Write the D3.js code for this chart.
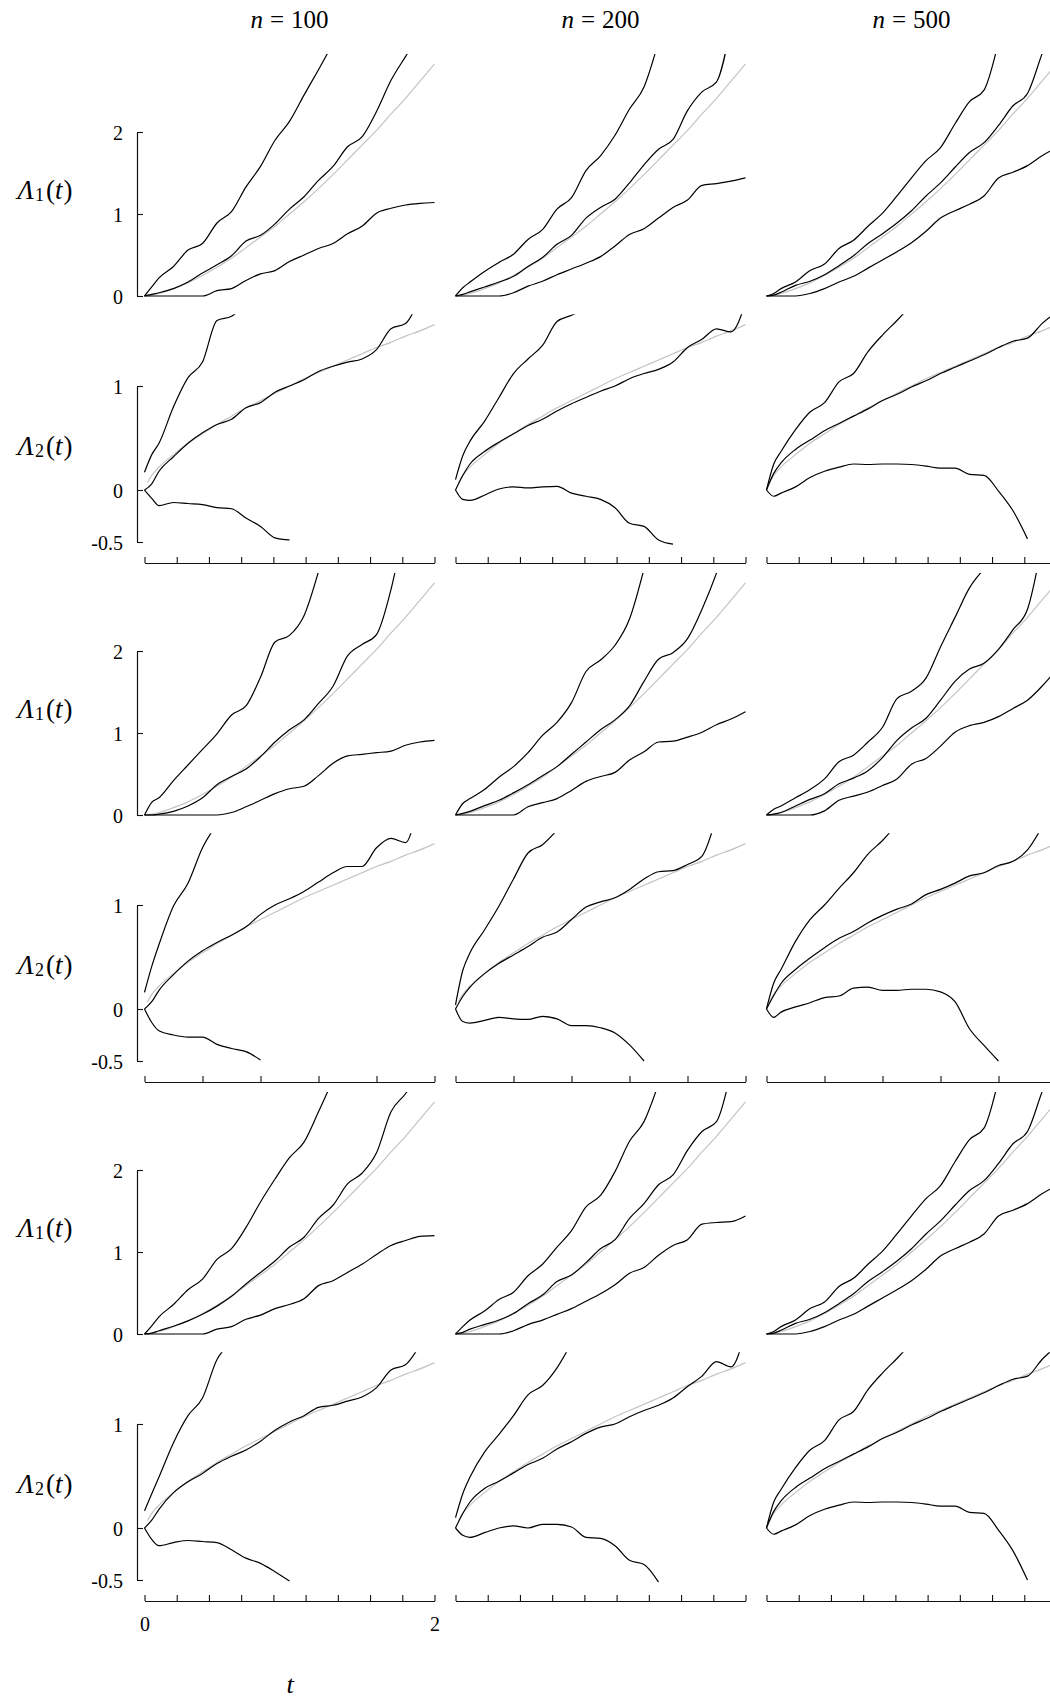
<!DOCTYPE html>
<html>
<head>
<meta charset="utf-8">
<script src="https://cdn.jsdelivr.net/npm/d3@7"></script>
<style>
  body { margin: 0; background: #fff; }
  svg { display: block; }
  text { font-family: "Liberation Serif", "Times New Roman", Times, serif; fill: #000; }
</style>
</head>
<body>
<script>
// time grid shared by all estimated curves
var T = [0, 0.05, 0.1, 0.2, 0.3, 0.4, 0.5, 0.6, 0.7, 0.8, 0.9, 1.0, 1.1, 1.2, 1.3, 1.4, 1.5, 1.6, 1.7, 1.8, 1.9, 2.0];

// true curves (grey)
var trueT1 = T;
var true1 = [0, 0.01, 0.03, 0.09, 0.16, 0.25, 0.35, 0.46, 0.59, 0.72, 0.85, 1.0, 1.15, 1.31, 1.48, 1.66, 1.84, 2.02, 2.22, 2.41, 2.62, 2.83];
var trueT2 = [0.02, 0.05, 0.1, 0.2, 0.3, 0.4, 0.5, 0.6, 0.7, 0.8, 0.9, 1.0, 1.1, 1.2, 1.3, 1.4, 1.5, 1.6, 1.7, 1.8, 1.9, 2.0];
var true2 = [0.07, 0.14, 0.22, 0.34, 0.45, 0.54, 0.63, 0.71, 0.79, 0.86, 0.93, 1.0, 1.07, 1.13, 1.19, 1.25, 1.31, 1.37, 1.42, 1.48, 1.53, 1.59];

var sampleSizes = ["100", "200", "500"];
var yTicks1 = [0, 1, 2];
var yTicks2 = [-0.5, 0, 1];
var yTickLabels2 = ["-0.5", "0", "1"];
var xTickCount = [10, 6, 10];

// estimates: [upper band, estimate, lower band], values on T
var lam1_r1_n100 = [
  [0, 0.11, 0.22, 0.36, 0.56, 0.64, 0.89, 1.03, 1.33, 1.58, 1.90, 2.13, 2.45, 2.76, 3.08],
  [0, 0.02, 0.04, 0.09, 0.17, 0.28, 0.38, 0.49, 0.67, 0.74, 0.88, 1.06, 1.21, 1.41, 1.58, 1.82, 1.94, 2.25, 2.63, 2.92, 3.2],
  [0, 0, 0, 0, 0, 0, 0.065, 0.09, 0.19, 0.27, 0.31, 0.42, 0.50, 0.58, 0.64, 0.76, 0.85, 1.01, 1.07, 1.11, 1.13, 1.14]
];
var lam2_r1_n100 = [
  [0.17, 0.34, 0.45, 0.80, 1.08, 1.23, 1.63, 1.67, 1.80],
  [0, 0.06, 0.18, 0.32, 0.45, 0.55, 0.63, 0.68, 0.79, 0.84, 0.94, 1.00, 1.06, 1.14, 1.19, 1.23, 1.26, 1.35, 1.55, 1.60, 1.85],
  [0, -0.08, -0.15, -0.12, -0.13, -0.14, -0.17, -0.18, -0.27, -0.35, -0.46, -0.48]
];
var lam1_r1_n200 = [
  [0, 0.10, 0.17, 0.30, 0.41, 0.51, 0.69, 0.81, 1.06, 1.20, 1.53, 1.71, 1.96, 2.28, 2.55, 3.10],
  [0, 0.02, 0.05, 0.11, 0.17, 0.24, 0.36, 0.47, 0.63, 0.74, 0.95, 1.08, 1.18, 1.38, 1.60, 1.79, 1.91, 2.26, 2.49, 2.61, 3.3],
  [0, 0, 0, 0, 0, 0.04, 0.12, 0.18, 0.26, 0.33, 0.40, 0.48, 0.61, 0.75, 0.82, 0.95, 1.08, 1.17, 1.35, 1.37, 1.40, 1.44]
];
var lam2_r1_n200 = [
  [0.10, 0.33, 0.47, 0.66, 0.89, 1.12, 1.26, 1.39, 1.62, 1.68, 1.75],
  [0, 0.14, 0.25, 0.37, 0.46, 0.54, 0.62, 0.68, 0.76, 0.83, 0.89, 0.95, 1.00, 1.07, 1.12, 1.16, 1.23, 1.37, 1.45, 1.55, 1.52, 1.80],
  [0, -0.09, -0.10, -0.05, 0.01, 0.03, 0.02, 0.03, 0.035, -0.03, -0.06, -0.09, -0.17, -0.32, -0.35, -0.48, -0.52]
];
var lam1_r1_n500 = [
  [0, 0.03, 0.09, 0.17, 0.31, 0.39, 0.58, 0.68, 0.85, 1.01, 1.22, 1.44, 1.65, 1.81, 2.10, 2.37, 2.51, 3.1],
  [0, 0.01, 0.045, 0.13, 0.18, 0.26, 0.37, 0.49, 0.64, 0.76, 0.89, 1.04, 1.22, 1.38, 1.57, 1.75, 1.87, 2.08, 2.32, 2.47, 2.95, 3.4],
  [0, 0, 0, 0, 0.03, 0.09, 0.17, 0.24, 0.34, 0.44, 0.54, 0.65, 0.79, 0.95, 1.04, 1.12, 1.22, 1.44, 1.51, 1.59, 1.71, 1.81]
];
var lam2_r1_n500 = [
  [0, 0.25, 0.37, 0.58, 0.75, 0.84, 1.04, 1.12, 1.33, 1.49, 1.63, 1.78],
  [0, 0.16, 0.26, 0.39, 0.48, 0.57, 0.64, 0.71, 0.78, 0.86, 0.92, 0.99, 1.05, 1.12, 1.18, 1.24, 1.30, 1.37, 1.43, 1.46, 1.60, 1.71],
  [0, -0.06, -0.03, 0.03, 0.12, 0.18, 0.22, 0.25, 0.245, 0.25, 0.25, 0.245, 0.23, 0.21, 0.21, 0.15, 0.14, -0.01, -0.20, -0.47]
];

var lam1_r2_n100 = [
  [0, 0.155, 0.21, 0.42, 0.61, 0.80, 0.99, 1.22, 1.33, 1.68, 2.11, 2.19, 2.43, 2.97],
  [0, 0.0, 0.01, 0.045, 0.11, 0.21, 0.37, 0.47, 0.56, 0.71, 0.89, 1.04, 1.16, 1.36, 1.57, 1.94, 2.08, 2.20, 2.75, 3.6],
  [0, 0, 0, 0, 0, 0, 0, 0.03, 0.10, 0.18, 0.26, 0.32, 0.35, 0.48, 0.63, 0.72, 0.74, 0.76, 0.78, 0.85, 0.89, 0.91]
];
var lam2_r2_n100 = [
  [0.16, 0.41, 0.62, 0.99, 1.21, 1.55, 1.78],
  [0, 0.07, 0.18, 0.33, 0.46, 0.56, 0.64, 0.71, 0.79, 0.91, 1.00, 1.06, 1.13, 1.22, 1.31, 1.37, 1.37, 1.55, 1.64, 1.60, 2.1],
  [0, -0.13, -0.21, -0.25, -0.27, -0.27, -0.34, -0.38, -0.41, -0.49]
];
var lam1_r2_n200 = [
  [0, 0.14, 0.20, 0.31, 0.46, 0.59, 0.76, 0.97, 1.13, 1.37, 1.75, 1.89, 2.07, 2.39, 3.0],
  [0, 0.02, 0.045, 0.115, 0.18, 0.27, 0.37, 0.48, 0.59, 0.74, 0.89, 1.04, 1.16, 1.33, 1.63, 1.90, 1.98, 2.15, 2.51, 2.95, 3.5],
  [0, 0, 0, 0, 0, 0, 0.10, 0.15, 0.20, 0.30, 0.41, 0.47, 0.52, 0.67, 0.77, 0.89, 0.90, 0.95, 1.01, 1.10, 1.17, 1.26]
];
var lam2_r2_n200 = [
  [0.04, 0.37, 0.54, 0.76, 0.99, 1.25, 1.50, 1.58, 1.72],
  [0, 0.12, 0.21, 0.34, 0.44, 0.52, 0.60, 0.69, 0.74, 0.86, 0.98, 1.03, 1.07, 1.15, 1.25, 1.32, 1.33, 1.39, 1.47, 1.85],
  [0, -0.12, -0.135, -0.11, -0.08, -0.095, -0.10, -0.07, -0.095, -0.16, -0.16, -0.18, -0.23, -0.345, -0.50]
];
var lam1_r2_n500 = [
  [0, 0.07, 0.11, 0.21, 0.31, 0.44, 0.65, 0.73, 0.89, 1.07, 1.42, 1.51, 1.67, 2.05, 2.41, 2.77, 3.0],
  [0, 0.01, 0.03, 0.11, 0.19, 0.26, 0.38, 0.45, 0.54, 0.70, 0.91, 1.06, 1.18, 1.40, 1.63, 1.78, 1.85, 2.02, 2.26, 2.51, 3.3],
  [0, 0, 0, 0, 0, 0.05, 0.18, 0.23, 0.28, 0.36, 0.44, 0.62, 0.69, 0.84, 1.01, 1.09, 1.13, 1.20, 1.30, 1.40, 1.57, 1.77]
];
var lam2_r2_n500 = [
  [0, 0.25, 0.38, 0.65, 0.86, 1.00, 1.16, 1.31, 1.49, 1.62, 1.78],
  [0, 0.13, 0.245, 0.38, 0.49, 0.59, 0.68, 0.745, 0.83, 0.90, 0.96, 1.01, 1.10, 1.15, 1.21, 1.28, 1.31, 1.38, 1.42, 1.53, 1.75],
  [0, -0.08, -0.03, 0.02, 0.06, 0.11, 0.125, 0.20, 0.21, 0.18, 0.18, 0.19, 0.19, 0.165, 0.07, -0.19, -0.35, -0.50]
];

var lam1_r3_n100 = [
  [0, 0.10, 0.21, 0.36, 0.54, 0.67, 0.91, 1.04, 1.30, 1.61, 1.89, 2.15, 2.34, 2.71, 3.1],
  [0, 0.01, 0.04, 0.095, 0.16, 0.24, 0.34, 0.46, 0.61, 0.75, 0.89, 1.06, 1.18, 1.41, 1.57, 1.83, 1.96, 2.21, 2.71, 2.93, 3.2],
  [0, 0, 0, 0, 0, 0, 0.06, 0.09, 0.18, 0.23, 0.31, 0.36, 0.43, 0.59, 0.65, 0.75, 0.85, 0.97, 1.08, 1.14, 1.19, 1.20]
];
var lam2_r3_n100 = [
  [0.165, 0.33, 0.49, 0.82, 1.08, 1.25, 1.62, 1.78],
  [0, 0.075, 0.18, 0.34, 0.445, 0.525, 0.62, 0.69, 0.75, 0.835, 0.94, 1.02, 1.08, 1.16, 1.18, 1.22, 1.26, 1.35, 1.52, 1.57, 1.76],
  [0, -0.11, -0.17, -0.14, -0.12, -0.13, -0.14, -0.21, -0.29, -0.34, -0.42, -0.51]
];
var lam1_r3_n200 = [
  [0, 0.09, 0.17, 0.28, 0.42, 0.51, 0.71, 0.85, 1.06, 1.26, 1.55, 1.69, 1.98, 2.35, 2.59, 3.05],
  [0, 0.02, 0.06, 0.115, 0.17, 0.25, 0.37, 0.475, 0.64, 0.72, 0.87, 1.04, 1.15, 1.41, 1.59, 1.82, 1.94, 2.24, 2.47, 2.59, 3.2],
  [0, 0, 0, 0, 0, 0.04, 0.115, 0.17, 0.24, 0.31, 0.40, 0.49, 0.60, 0.74, 0.81, 0.96, 1.08, 1.15, 1.34, 1.36, 1.37, 1.44]
];
var lam2_r3_n200 = [
  [0.10, 0.33, 0.49, 0.73, 0.90, 1.08, 1.28, 1.37, 1.54, 1.78],
  [0, 0.14, 0.25, 0.38, 0.45, 0.53, 0.61, 0.67, 0.76, 0.83, 0.91, 0.97, 1.00, 1.07, 1.13, 1.18, 1.25, 1.36, 1.46, 1.60, 1.55, 1.90],
  [0, -0.07, -0.09, -0.045, 0.00, 0.02, 0.00, 0.035, 0.035, 0.01, -0.09, -0.10, -0.17, -0.31, -0.35, -0.52]
];
var lam1_r3_n500 = [
  [0, 0.03, 0.09, 0.17, 0.31, 0.39, 0.58, 0.68, 0.85, 1.01, 1.22, 1.44, 1.65, 1.81, 2.10, 2.37, 2.51, 3.1],
  [0, 0.01, 0.045, 0.13, 0.18, 0.26, 0.37, 0.49, 0.64, 0.76, 0.89, 1.04, 1.22, 1.38, 1.57, 1.75, 1.87, 2.08, 2.32, 2.47, 2.95, 3.4],
  [0, 0, 0, 0, 0.03, 0.09, 0.17, 0.24, 0.34, 0.44, 0.54, 0.65, 0.79, 0.95, 1.04, 1.12, 1.22, 1.44, 1.51, 1.59, 1.71, 1.81]
];
var lam2_r3_n500 = [
  [0, 0.25, 0.37, 0.58, 0.75, 0.84, 1.04, 1.12, 1.33, 1.49, 1.63, 1.78],
  [0, 0.16, 0.26, 0.39, 0.48, 0.57, 0.64, 0.71, 0.78, 0.86, 0.92, 0.99, 1.05, 1.12, 1.18, 1.24, 1.30, 1.37, 1.43, 1.46, 1.62, 1.75],
  [0, -0.06, -0.03, 0.03, 0.12, 0.18, 0.22, 0.25, 0.245, 0.25, 0.25, 0.245, 0.23, 0.21, 0.21, 0.15, 0.14, -0.02, -0.22, -0.50]
];

var lam1Rows = [
  [lam1_r1_n100, lam1_r1_n200, lam1_r1_n500],
  [lam1_r2_n100, lam1_r2_n200, lam1_r2_n500],
  [lam1_r3_n100, lam1_r3_n200, lam1_r3_n500]
];
var lam2Rows = [
  [lam2_r1_n100, lam2_r1_n200, lam2_r1_n500],
  [lam2_r2_n100, lam2_r2_n200, lam2_r2_n500],
  [lam2_r3_n100, lam2_r3_n200, lam2_r3_n500]
];

var W = 1050, H = 1699;
var blockStep = 519, colStep = 311;
var serif = "Liberation Serif, Times New Roman, Times, serif";

var svg = d3.select("body").append("svg")
  .attr("width", W)
  .attr("height", H);
var defs = svg.append("defs");

function drawPanel(id, x, y, top, bottom, tT, tV, curves) {
  defs.append("clipPath").attr("id", id)
    .append("rect")
    .attr("x", x(0) - 1)
    .attr("y", y(top))
    .attr("width", x(2) - x(0) + 2)
    .attr("height", y(bottom) - y(top));

  var g = svg.append("g").attr("clip-path", "url(#" + id + ")");

  var trueLine = d3.line()
    .x(function(d, i) { return x(tT[i]); })
    .y(function(d) { return y(d); })
    .curve(d3.curveMonotoneX);
  g.append("path")
    .attr("d", trueLine(tV))
    .attr("fill", "none")
    .attr("stroke", "#c4c4c4")
    .attr("stroke-width", 1.2);

  var estLine = d3.line()
    .x(function(d, i) { return x(T[i]); })
    .y(function(d) { return y(d); })
    .curve(d3.curveMonotoneX);
  g.selectAll("path.est")
    .data(curves)
    .enter().append("path")
    .attr("class", "est")
    .attr("d", estLine)
    .attr("fill", "none")
    .attr("stroke", "#000")
    .attr("stroke-width", 1.2)
    .attr("stroke-linejoin", "round");
}

function styleAxis(sel) {
  sel.attr("font-family", serif)
    .attr("font-size", 20);
  sel.select(".domain").attr("stroke", "#111").attr("stroke-width", 1.2);
  sel.selectAll(".tick line").attr("stroke", "#111").attr("stroke-width", 1.1);
  sel.selectAll(".tick text").attr("fill", "#000").attr("font-family", serif);
}

function yLabel(ycenter, sub) {
  var t = svg.append("text")
    .attr("x", 45)
    .attr("y", ycenter)
    .attr("text-anchor", "middle")
    .attr("font-family", serif)
    .attr("font-size", 27);
  t.append("tspan").attr("font-style", "italic").text("Λ");
  t.append("tspan").attr("font-size", 18).attr("dx", 1).attr("dy", 2).text(sub);
  t.append("tspan").attr("dx", 2).attr("dy", -2).text("(");
  t.append("tspan").attr("font-style", "italic").text("t");
  t.append("tspan").attr("dx", 1).text(")");
}

for (var b = 0; b < 3; b++) {
  var off = b * blockStep;
  var y1 = d3.scaleLinear().domain([0, 2]).range([296 + off, 132 + off]);
  var y2 = d3.scaleLinear().domain([-0.5, 1]).range([542 + off, 386 + off]);
  var nt = xTickCount[b];
  var xt = d3.range(nt).map(function(i) { return 2 * i / (nt - 1); });

  for (var c = 0; c < 3; c++) {
    var x = d3.scaleLinear().domain([0, 2]).range([144.5 + c * colStep, 434.5 + c * colStep]);

    drawPanel("c1_" + b + "_" + c, x, y1, 2.95, -0.06, trueT1, true1, lam1Rows[b][c]);
    drawPanel("c2_" + b + "_" + c, x, y2, 1.69, -0.56, trueT2, true2, lam2Rows[b][c]);

    var showLab = (b === 2 && c === 0);
    var xAxis = d3.axisBottom(x)
      .tickValues(xt)
      .tickSizeInner(-6)
      .tickSizeOuter(0)
      .tickPadding(16)
      .tickFormat(function(d, i) {
        if (!showLab) return "";
        return (i === 0 || i === xt.length - 1) ? d3.format("d")(d) : "";
      });
    svg.append("g")
      .attr("transform", "translate(0," + (563 + off) + ")")
      .call(xAxis)
      .call(styleAxis);
  }

  var yAxis1 = d3.axisLeft(y1).tickValues(yTicks1).tickSizeInner(-6).tickSizeOuter(0).tickPadding(14)
    .tickFormat(d3.format("d"));
  svg.append("g").attr("transform", "translate(137,0)").call(yAxis1).call(styleAxis)
    .selectAll(".tick text").attr("dy", "0.38em");

  var yAxis2 = d3.axisLeft(y2).tickValues(yTicks2).tickSizeInner(-6).tickSizeOuter(0).tickPadding(14)
    .tickFormat(function(d, i) { return yTickLabels2[i]; });
  svg.append("g").attr("transform", "translate(137,0)").call(yAxis2).call(styleAxis)
    .selectAll(".tick text").attr("dy", "0.38em");

  yLabel(199 + off, "1");
  yLabel(455 + off, "2");
}

// column headers
sampleSizes.forEach(function(n, c) {
  var t = svg.append("text")
    .attr("x", 289.5 + c * colStep)
    .attr("y", 28)
    .attr("text-anchor", "middle")
    .attr("font-family", serif)
    .attr("font-size", 25);
  t.append("tspan").attr("font-style", "italic").text("n");
  t.append("tspan").attr("dx", 7).text("=");
  t.append("tspan").attr("dx", 7).text(n);
});

// x axis title
svg.append("text")
  .attr("x", 290)
  .attr("y", 1693)
  .attr("text-anchor", "middle")
  .attr("font-family", serif)
  .attr("font-size", 26)
  .attr("font-style", "italic")
  .text("t");
</script>
</body>
</html>
